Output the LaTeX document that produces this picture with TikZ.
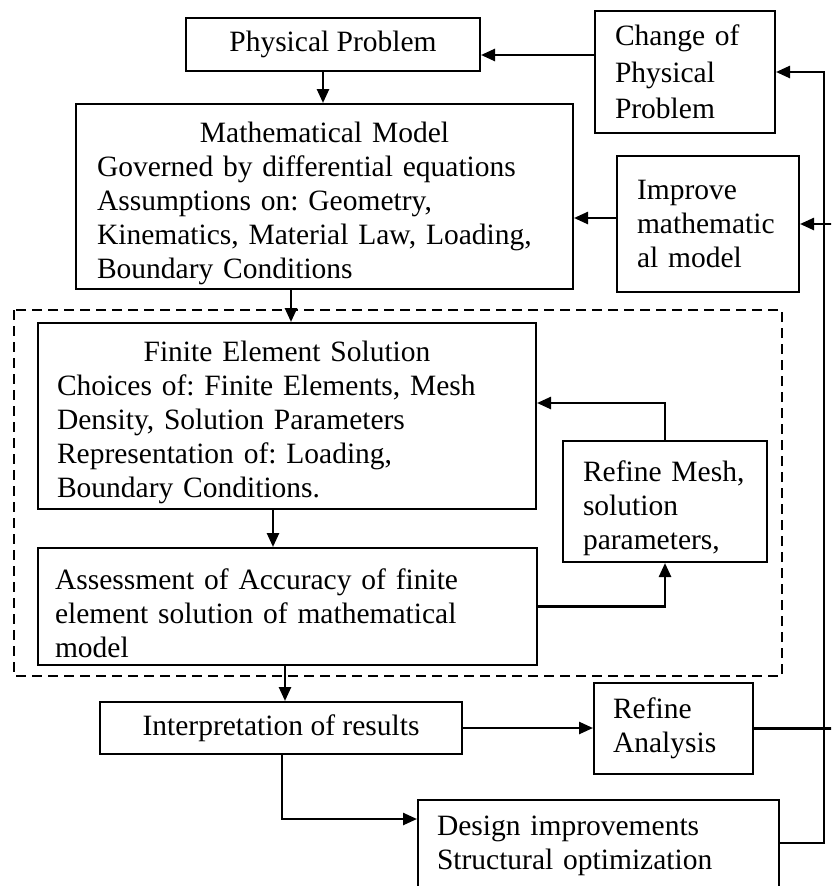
\documentclass[tikz,border=0pt]{standalone}
\usepackage{fontspec}
\setmainfont{Liberation Serif}
\usetikzlibrary{arrows.meta}
\newcommand{\topgap}{\rule{0pt}{33.5pt}}

\begin{document}
\frenchspacing
\begin{tikzpicture}
  [x=1pt,y=-1pt,
   every node/.style={draw,line width=2pt,inner sep=0pt,font=\fontsize{29.5}{34}\selectfont},
   blk/.style={align=left},
   arr/.style={line width=2.5pt,-{Triangle[length=14pt,width=12pt]}}]
  \clip (0,0) rectangle (831,886);
  \node (pp) [minimum width=294pt,minimum height=53pt] at (333,44.5) {Physical Problem};
  \node (chg) [blk,text width=140pt,minimum width=180pt,minimum height=122pt,
    font=\fontsize{29.5}{36.5}\selectfont] at (685,72) {Change of\\Physical\\Problem};
  \node (mm) [blk,text width=455pt,minimum width=497pt,minimum height=185pt] at (324.5,196.5)
    {\topgap\makebox[455pt]{Mathematical Model}\\Governed by differential equations\\Assumptions on: Geometry,\\Kinematics, Material Law, Loading,\\Boundary Conditions};
  \node (imp) [blk,text width=142pt,minimum width=182pt,minimum height=136pt] at (708,224) {Improve\\mathematic\\al model};
  \node (fe) [blk,text width=460pt,minimum width=498pt,minimum height=186pt] at (287,416)
    {\topgap\makebox[460pt]{Finite Element Solution}\\Choices of: Finite Elements, Mesh\\Density, Solution Parameters\\Representation of: Loading,\\Boundary Conditions.};
  \node (rm) [blk,text width=164pt,minimum width=204pt,minimum height=121pt] at (665,501.5) {\topgap Refine Mesh,\\solution\\parameters,};
  \node (as) [blk,text width=465pt,minimum width=499pt,minimum height=117pt] at (287.5,606.5)
    {\topgap Assessment of Accuracy of finite\\element solution of mathematical\\model};
  \node (ip) [minimum width=362pt,minimum height=52pt] at (281,728) {Interpretation of results};
  \node (ra) [blk,text width=121pt,minimum width=159pt,minimum height=91pt] at (673.5,728.5) {Refine\\Analysis};
  \node (di) [blk,text width=323pt,minimum width=361pt,minimum height=92pt] at (598.5,846) {Design improvements\\Structural optimization};
  \coordinate (rt) at (824,72);
  \coordinate (eR) at (838,500);

  % dashed frame round the solution loop
  \draw[line width=2pt,dash pattern=on 10pt off 6pt] (14,310) rectangle (782,676);

  \draw[arr] ([yshift=17pt]chg.west) -- ([yshift=17pt]chg.west -| pp.east);
  \draw[arr] ([xshift=-10pt]pp.south) -- ([xshift=-1.5pt]mm.north);
  \draw[arr] ([yshift=6pt]imp.west) -- ([yshift=6pt]imp.west -| mm.east);
  \draw[arr] ([xshift=-33.5pt]mm.south) -- ([xshift=4pt]fe.north);
  \draw[arr] ([xshift=-14pt]fe.south) -- ([xshift=-14.5pt]as.north);
  \draw[arr] (as.east) -| (rm.south);
  \draw[arr] (rm.north) |- ([yshift=13pt]fe.east);
  \draw[arr] ([xshift=-2.5pt]as.south) -- ([xshift=4pt]ip.north);
  \draw[arr] (ip.east) -- (ip.east -| ra.west);
  \draw[arr] ([xshift=1pt]ip.south) |- ([yshift=27pt]di.west);
  \draw[arr] ([yshift=3pt]di.east) -| (rt) -- (chg.east);
  \draw[arr] (ra.east) -| (eR) |- (imp.east);

\end{tikzpicture}
\end{document}
